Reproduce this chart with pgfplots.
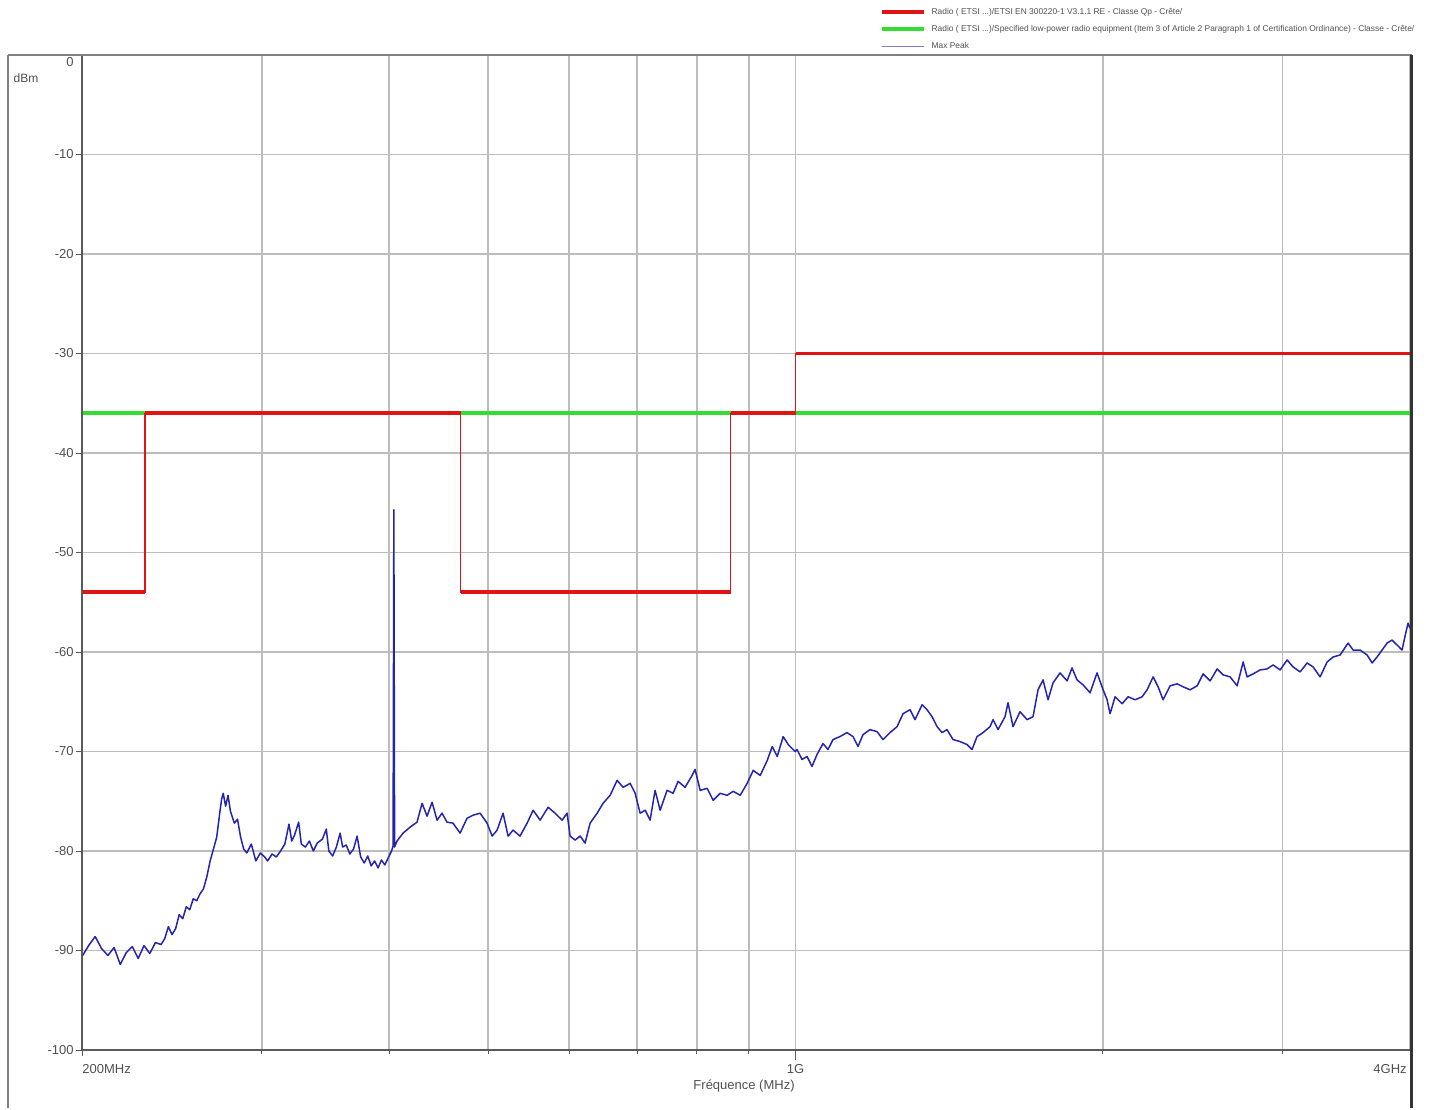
\documentclass[border=0pt]{standalone}
\usepackage{fontspec}
\setmainfont{Liberation Sans}
\usepackage{pgfplots}
\pgfplotsset{compat=1.18}

\definecolor{limred}{HTML}{E01414}
\definecolor{limgreen}{HTML}{33DD33}
\definecolor{trace}{HTML}{2424AE}
\definecolor{gridc}{HTML}{BDBDBD}
\definecolor{framec}{HTML}{5A5A5A}
\definecolor{txt}{HTML}{505050}

\pgfplotstableread{
f      dbm
200    -90.6
203    -89.5
206    -88.6
209    -89.8
212    -90.5
215    -89.7
218    -91.4
221    -90.2
224    -89.6
227    -90.8
230    -89.5
233    -90.3
236    -89.2
239    -89.4
241    -88.8
243    -87.6
245    -88.4
247    -87.8
249    -86.4
251    -86.8
253    -85.6
255    -85.9
257    -84.8
259    -85.0
261    -84.3
263    -83.8
265    -82.6
267    -81.0
269    -79.8
271    -78.6
273    -76.0
274    -74.8
275    -74.2
276.5  -75.5
278    -74.4
279.5  -76.0
282    -77.2
284    -76.8
286    -78.6
288    -79.8
290    -80.2
293    -79.3
296    -81.0
299    -80.2
302    -80.6
304    -81.0
307    -80.3
310    -80.6
313    -80.0
316    -79.3
319    -77.3
321    -79.0
323    -78.4
326    -77.1
328    -79.3
331    -79.6
334    -79.0
337    -80.0
340    -79.2
344    -78.8
347    -77.8
349    -80.0
352    -80.5
355    -79.6
358    -78.2
360    -79.6
363    -79.4
366    -80.3
369    -79.8
372    -78.5
375    -80.6
378    -81.2
381    -80.5
384    -81.5
387    -81.0
390    -81.7
393    -80.9
396    -81.4
399    -80.7
402    -80.0
403.4  -79.5
404.1  -45.7
404.8  -79.6
407.0  -79.0
412.6  -78.2
419.2  -77.6
425.8  -77.1
430.7  -75.2
435.5  -76.5
440.5  -75.1
445.5  -76.9
450.5  -76.2
455.6  -77.1
461.8  -77.2
469.2  -78.2
476.7  -76.7
483.2  -76.4
490.9  -76.2
498.7  -77.2
504.4  -78.5
510.1  -77.9
517.0  -76.2
522.9  -78.5
528.8  -77.9
537.2  -78.5
545.8  -77.2
553.3  -75.9
562.1  -76.9
572.3  -75.6
581.4  -76.2
590.7  -76.9
597.4  -76.2
601.4  -78.5
608.3  -78.9
615.2  -78.5
622.1  -79.2
629.2  -77.2
639.2  -76.2
647.9  -75.2
658.3  -74.4
668.7  -72.9
677.9  -73.6
688.7  -73.2
696.5  -74.2
704.4  -76.2
712.4  -75.9
720.4  -76.9
728.6  -73.9
736.9  -75.9
748.6  -73.9
758.8  -74.2
767.4  -73.0
779.6  -73.6
792.1  -72.4
797.4  -71.8
806.5  -73.9
819.3  -73.7
830.5  -74.9
843.7  -74.2
857.1  -74.4
868.8  -74.0
882.7  -74.4
896.7  -73.2
909.0  -71.9
923.5  -72.4
938.2  -70.9
948.8  -69.5
959.6  -70.5
972.6  -68.5
983.7  -69.3
999.0  -70.0
1003.4 -69.8
1014.8 -70.8
1026.3 -70.5
1037.9 -71.5
1049.7 -70.3
1064.0 -69.2
1076.1 -69.8
1088.3 -68.8
1105.6 -68.5
1123.2 -68.1
1138.5 -68.5
1151.4 -69.5
1164.5 -68.3
1183.0 -67.8
1201.9 -68.0
1218.3 -68.8
1237.7 -68.1
1257.4 -67.5
1274.5 -66.2
1294.8 -65.8
1309.5 -66.8
1330.4 -65.3
1345.4 -65.8
1360.7 -66.5
1376.2 -67.5
1391.8 -68.1
1407.5 -67.8
1426.7 -68.8
1449.4 -69.0
1472.5 -69.3
1489.2 -69.8
1506.1 -68.5
1526.6 -68.1
1551.0 -67.5
1561.5 -66.8
1579.2 -67.8
1604.3 -66.5
1615.2 -65.1
1633.5 -67.5
1659.6 -66.0
1686.0 -66.8
1709.0 -66.5
1728.4 -63.8
1748.0 -62.8
1767.8 -64.8
1787.9 -63.1
1816.4 -62.1
1845.3 -62.9
1866.2 -61.6
1887.4 -62.8
1913.1 -63.3
1943.6 -64.1
1974.6 -62.1
2001.5 -63.8
2019.6 -64.8
2033.3 -66.2
2056.4 -64.5
2089.1 -65.2
2117.6 -64.5
2151.3 -64.8
2185.6 -64.5
2210.4 -63.8
2240.5 -62.5
2265.9 -63.5
2291.6 -64.8
2328.1 -63.4
2365.2 -63.2
2397.4 -63.5
2435.6 -63.8
2474.4 -63.4
2508.1 -62.2
2548.0 -62.9
2588.6 -61.7
2623.8 -62.3
2665.6 -62.5
2708.1 -63.4
2745.0 -61.0
2769.8 -62.5
2807.5 -62.2
2852.3 -61.8
2897.7 -61.7
2937.1 -61.3
2983.9 -61.8
3031.4 -60.8
3072.7 -61.5
3121.7 -62.0
3171.4 -61.1
3214.5 -61.5
3265.7 -62.5
3317.8 -61.0
3362.9 -60.5
3416.5 -60.3
3478.7 -59.1
3518.1 -59.8
3574.1 -59.8
3631.1 -60.3
3672.3 -61.1
3713.9 -60.5
3756.0 -59.8
3798.6 -59.1
3841.7 -58.8
3885.3 -59.3
3929.4 -59.8
3956.0 -58.4
3982.9 -57.1
4000   -57.6
}\peaktrace

\begin{document}
\begin{tikzpicture}
\begin{axis}[
  scale only axis,
  width=664pt, height=497.5pt,
  xmode=log,
  xmin=200, xmax=4000, ymin=-100, ymax=0,
  clip mode=individual,
  axis line style={draw=none},
  xtick={200,1000,4000},
  xticklabels={},
  minor xtick={300,400,500,600,700,800,900,2000,3000},
  ytick={-100,-90,-80,-70,-60,-50,-40,-30,-20,-10},
  yticklabels={-100,-90,-80,-70,-60,-50,-40,-30,-20,-10},
  extra y ticks={0},
  extra y tick labels={0},
  extra y tick style={yticklabel style={yshift=-3.5pt}},
  xtick pos=bottom, ytick pos=left,
  tick align=outside,
  major tick length=3pt, minor tick length=2pt,
  tick style={draw=framec, line width=0.5pt},
  grid=both,
  major grid style={draw=gridc, line width=0.9pt},
  minor grid style={draw=gridc, line width=0.9pt},
  ticklabel style={font=\fontsize{6.5}{7}\selectfont, text=txt},
  yticklabel style={anchor=east, inner sep=0pt, xshift=-1pt},
  legend style={at={(rel axis cs:0.6003,1.0485)}, anchor=north west,
    draw=none, fill=none, font=\fontsize{4.2}{4.5}\selectfont, text=txt,
    row sep=3.6pt, inner sep=0pt,
    nodes={inner sep=0.6pt, text height=3pt, text depth=0.8pt},
    /tikz/every odd column/.append style={column sep=2.5pt}},
  legend cell align=left,
  legend image code/.code={\draw[#1] (0pt,0pt) -- (21pt,0pt);},
]
% limits first, the noise trace last
\addplot[limgreen, line width=1.9pt, forget plot] coordinates {(200,-36) (4000,-36)};
\addplot[limred, line width=0.6pt, forget plot] coordinates {
  (200,-54) (230.5,-54) (230.5,-36) (470,-36) (470,-54)
  (864,-54) (864,-36) (1000,-36) (1000,-30) (4000,-30)};
\addplot[limred, line width=1.9pt, forget plot] coordinates {(200,-54) (230.5,-54)};
\addplot[limred, line width=1.9pt, forget plot] coordinates {(230.5,-36) (470,-36)};
\addplot[limred, line width=1.9pt, forget plot] coordinates {(470,-54) (864,-54)};
\addplot[limred, line width=1.9pt, forget plot] coordinates {(864,-36) (1000,-36)};
\addplot[limred, line width=1.9pt, forget plot] coordinates {(1000,-30) (4000,-30)};
\addplot[trace, line width=0.75pt, line join=round, forget plot] table[x=f, y=dbm] {\peaktrace};

\addlegendimage{limred, line width=1.9pt}
\addlegendentry{Radio ( ETSI ...)/ETSI EN 300220-1 V3.1.1 RE - Classe Qp - Cr\^ete/}
\addlegendimage{limgreen, line width=1.9pt}
\addlegendentry{Radio ( ETSI ...)/Specified low-power radio equipment (Item 3 of Article 2 Paragraph 1 of Certification Ordinance) - Classe - Cr\^ete/}
\addlegendimage{trace!60!white, line width=0.5pt}
\addlegendentry{Max Peak}

% frame and axis lines
\draw[framec, line width=1pt] (rel axis cs:0,0) -- (rel axis cs:1,0);
\draw[framec, line width=1pt] (rel axis cs:0,0) -- (rel axis cs:0,1);
\draw[gray, line width=0.9pt] (rel axis cs:-0.0557,1) -- (rel axis cs:1.0015,1);
\draw[gray, line width=0.9pt] (rel axis cs:-0.0557,1) -- (rel axis cs:-0.0557,-0.0583);
\draw[black!80, line width=1.4pt] (rel axis cs:1.0008,1) -- (rel axis cs:1.0008,-0.0583);
\draw[framec, line width=0.5pt] (axis cs:1000,-100) -- ([yshift=-5pt]axis cs:1000,-100);

% labels
\node[font=\fontsize{6}{7}\selectfont, text=txt] at (rel axis cs:-0.0422,0.9769) {dBm};
\node[font=\fontsize{6.5}{7}\selectfont, text=txt, anchor=west, inner sep=0pt] at ([yshift=-9.5pt]axis cs:200,-100) {200MHz};
\node[font=\fontsize{6.5}{7}\selectfont, text=txt, inner sep=0pt] at ([yshift=-9.5pt]axis cs:1000,-100) {1G};
\node[font=\fontsize{6.5}{7}\selectfont, text=txt, anchor=east, inner sep=0pt] at ([yshift=-9.5pt,xshift=-1.5pt]axis cs:4000,-100) {4GHz};
\node[font=\fontsize{6.5}{7}\selectfont, text=txt] at (rel axis cs:0.4985,-0.0362) {Fréquence (MHz)};

% page extent
\path (rel axis cs:-0.06175,-0.05829) rectangle (rel axis cs:1.01807,1.05528);
\end{axis}
\end{tikzpicture}
\end{document}
